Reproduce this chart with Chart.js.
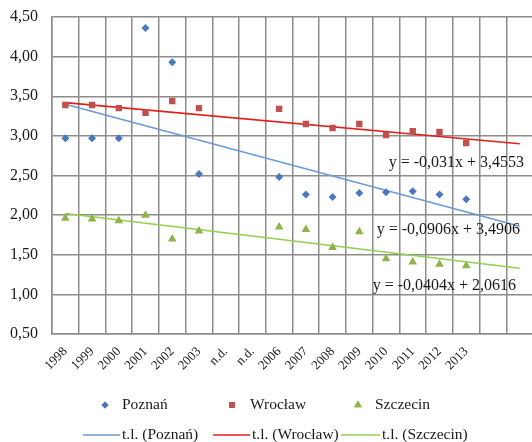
<!DOCTYPE html>
<html lang="pl">
<head>
<meta charset="UTF-8">
<title>Poznań, Wrocław, Szczecin</title>
<script src="https://cdn.jsdelivr.net/npm/chart.js@4.4.1/dist/chart.umd.min.js"></script>
<style>
  body { margin: 0; background: #fff; overflow: hidden; }
</style>
</head>
<body>
<canvas id="myChart" width="538" height="442"></canvas>
<script>
// categories (two empty slots at the end hold the trend forecast)
const years = ['1998', '1999', '2000', '2001', '2002', '2003', 'n.d.', 'n.d.',
  '2006', '2007', '2008', '2009', '2010', '2011', '2012', '2013', '', ''];

const poznan   = [2.97, 2.97, 2.97, 4.36, 3.93, 2.52, null, null, 2.48, 2.26, 2.23, 2.28, 2.29, 2.30, 2.26, 2.20];
const wroclaw  = [3.39, 3.39, 3.35, 3.29, 3.44, 3.35, null, null, 3.34, 3.15, 3.10, 3.15, 3.01, 3.06, 3.05, 2.91];
const szczecin = [1.96, 1.95, 1.93, 2.00, 1.70, 1.80, null, null, 1.85, 1.82, 1.59, 1.79, 1.45, 1.41, 1.38, 1.36];

// trend line values at the first and the last category
const trendPoznan   = [3.40, 1.86];
const trendWroclaw  = [3.42, 2.90];
const trendSzczecin = [2.02, 1.33];

const eqPoznan   = 'y = -0,0906x + 3,4906';
const eqWroclaw  = 'y = -0,031x + 3,4553';
const eqSzczecin = 'y = -0,0404x + 2,0616';

const yTicks = [0.5, 1, 1.5, 2, 2.5, 3, 3.5, 4, 4.5];

function trendSeries(ends) {
  const arr = years.map(() => null);
  arr[0] = ends[0];
  arr[arr.length - 1] = ends[1];
  return arr;
}

const FONT = '"Liberation Serif", "Times New Roman", serif';
const blue = '#4a78c0', red = '#c0504d', green = '#8db44a';
const blueLine = '#6b9ad6', redLine = '#e0201c', greenLine = '#92d050';

function scatter(label, data, color, style, radius) {
  return {
    label, data, showLine: false,
    pointStyle: style, pointRadius: radius, pointHoverRadius: radius,
    backgroundColor: color, borderColor: color, borderWidth: 0
  };
}
function trend(label, ends, color) {
  return {
    label, data: trendSeries(ends), spanGaps: true,
    borderColor: color, borderWidth: 1.6, pointRadius: 0, fill: false
  };
}

// equation labels, anchored in data coordinates (category index, value)
const eqLabels = [
  { text: eqWroclaw,  at: [12.1, 2.66] },
  { text: eqPoznan,   at: [11.65, 1.81] },
  { text: eqSzczecin, at: [11.5, 1.11] }
];

const extras = {
  id: 'extras',
  afterDraw(chart) {
    const ctx = chart.ctx;
    const xs = chart.scales.x, ys = chart.scales.y;
    const step = xs.getPixelForValue(1) - xs.getPixelForValue(0);
    ctx.save();
    ctx.fillStyle = '#1a1a1a';
    ctx.font = '16px ' + FONT;
    ctx.textBaseline = 'middle';
    ctx.textAlign = 'left';
    eqLabels.forEach(l => {
      const x = xs.getPixelForValue(0) + l.at[0] * step;
      ctx.fillText(l.text, x, ys.getPixelForValue(l.at[1]));
    });

    // legend
    ctx.font = '15.5px ' + FONT;
    const ds = chart.data.datasets;
    const row1 = 405, row2 = 435;
    const marks = [[105, 122], [232, 250], [358, 375]];
    [0, 1, 2].forEach((i, k) => {
      const d = ds[i];
      ctx.fillStyle = d.backgroundColor;
      Chart.helpers.drawPoint(ctx, {
        pointStyle: d.pointStyle, radius: d.pointRadius - 0.5, borderWidth: 0
      }, marks[k][0], row1);
      ctx.fill();
      ctx.fillStyle = '#1a1a1a';
      ctx.fillText(d.label, marks[k][1], row1);
    });
    const lines = [[83, 120, 122], [213, 250, 252], [341, 380, 382]];
    [3, 4, 5].forEach((i, k) => {
      const d = ds[i];
      ctx.strokeStyle = d.borderColor;
      ctx.lineWidth = 1.6;
      ctx.beginPath();
      ctx.moveTo(lines[k][0], row2);
      ctx.lineTo(lines[k][1], row2);
      ctx.stroke();
      ctx.fillStyle = '#1a1a1a';
      ctx.fillText(d.label, lines[k][2], row2);
    });
    ctx.restore();
  }
};

const ctx = document.getElementById('myChart').getContext('2d');
new Chart(ctx, {
  type: 'line',
  data: {
    labels: years,
    datasets: [
      scatter('Poznań', poznan, blue, 'rectRot', 4),
      scatter('Wrocław', wroclaw, red, 'rect', 4.5),
      scatter('Szczecin', szczecin, green, 'triangle', 5),
      trend('t.l. (Poznań)', trendPoznan, blueLine),
      trend('t.l. (Wrocław)', trendWroclaw, redLine),
      trend('t.l. (Szczecin)', trendSzczecin, greenLine)
    ]
  },
  options: {
    responsive: false,
    animation: false,
    events: [],
    layout: { padding: { top: 17, left: 0, right: 0, bottom: 58 } },
    plugins: { legend: { display: false }, tooltip: { enabled: false } },
    scales: {
      x: {
        offset: true,
        grid: { offset: true, color: '#8c8c8c', lineWidth: 1.5, drawTicks: false },
        border: { color: '#8c8c8c', width: 1.5 },
        ticks: {
          autoSkip: false, maxRotation: 45, minRotation: 45, padding: 10,
          color: '#1a1a1a', font: { family: FONT, size: 13 }
        },
        afterFit(scale) {
          scale.height = 50;
          scale.paddingLeft = 0;
          scale.paddingRight = 0;
        }
      },
      y: {
        min: 0.5, max: 4.5,
        afterBuildTicks(scale) { scale.ticks = yTicks.map(v => ({ value: v })); },
        grid: { color: '#8c8c8c', lineWidth: 1.5, drawTicks: false },
        border: { color: '#8c8c8c', width: 1.5 },
        ticks: {
          padding: 14, color: '#1a1a1a',
          font: { family: FONT, size: 16 },
          callback: v => v.toFixed(2).replace('.', ',')
        },
        afterFit(scale) {
          scale.width = 52;
          scale.paddingTop = 0;
          scale.paddingBottom = 0;
        }
      }
    }
  },
  plugins: [extras]
});
</script>
</body>
</html>
